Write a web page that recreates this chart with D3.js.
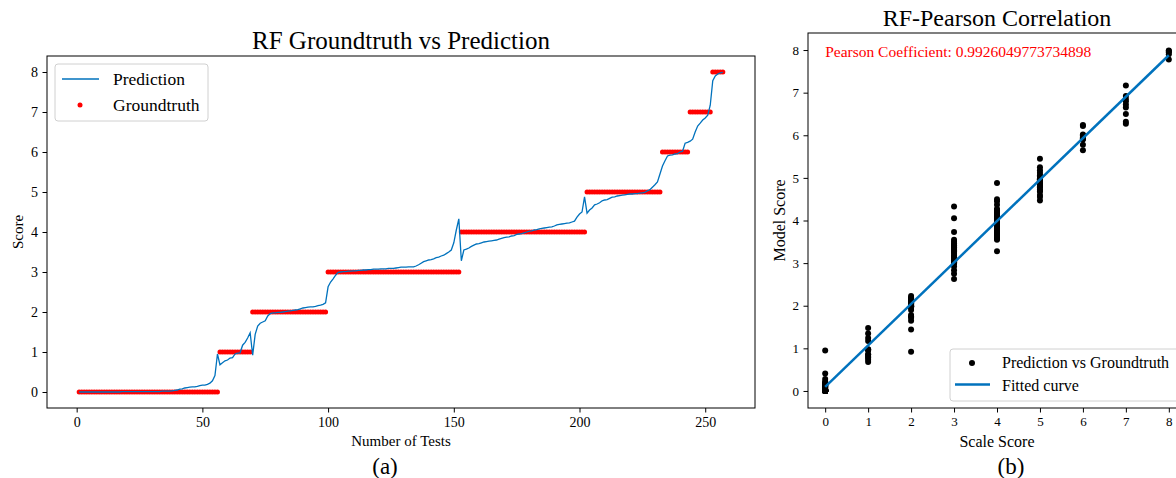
<!DOCTYPE html>
<html>
<head>
<meta charset="utf-8">
<script src="https://cdn.jsdelivr.net/npm/d3@7"></script>
<style>
  html, body { margin: 0; padding: 0; background: #fff; }
  svg { display: block; font-family: "Liberation Serif", "Times New Roman", serif; }
</style>
</head>
<body>
<svg id="chart" width="1176" height="478"></svg>
<script>
// ---- data ----
// groundtruth levels and how many tests sit on each level (tests are sorted by level)
const scoreLevels = [0, 1, 2, 3, 4, 5, 6, 7, 8];
const levelCounts = [56, 13, 30, 53, 50, 30, 11, 9, 5];

// RF prediction for each test, in test order
const prediction = [
  // level 0
  0, 0, 0, 0, 0, 0, 0, 0, 0, 0,
  0, 0, 0, 0, 0, 0, 0, 0.01, 0.01, 0.01,
  0.01, 0.01, 0.01, 0.01, 0.01, 0.01, 0.01, 0.01, 0.01, 0.01,
  0.01, 0.01, 0.01, 0.02, 0.02, 0.02, 0.02, 0.03, 0.04, 0.05,
  0.07, 0.08, 0.1, 0.11, 0.12, 0.13, 0.13, 0.14, 0.16, 0.17,
  0.17, 0.19, 0.22, 0.28, 0.41, 0.95,
  // level 1
  0.68, 0.73, 0.78, 0.8, 0.85, 0.86, 0.95, 0.97, 0.98, 1.17, 1.24, 1.35, 1.48,
  // level 2
  0.92, 1.44, 1.65, 1.72, 1.75, 1.78, 1.9, 1.96, 1.98, 1.98,
  1.99, 1.99, 2.0, 2.01, 2.02, 2.03, 2.04, 2.05, 2.06, 2.08,
  2.1, 2.11, 2.12, 2.13, 2.13, 2.14, 2.16, 2.17, 2.19, 2.23,
  // level 3
  2.63, 2.75, 2.83, 2.92, 2.99, 3.0, 3.01, 3.01, 3.02, 3.02,
  3.03, 3.03, 3.04, 3.04, 3.05, 3.05, 3.06, 3.06, 3.07, 3.07,
  3.07, 3.08, 3.08, 3.08, 3.09, 3.09, 3.09, 3.1, 3.11, 3.12,
  3.12, 3.12, 3.13, 3.13, 3.13, 3.15, 3.18, 3.22, 3.26, 3.28,
  3.3, 3.31, 3.33, 3.36, 3.37, 3.4, 3.42, 3.46, 3.5, 3.55,
  3.73, 4.05, 4.33,
  // level 4
  3.28, 3.55, 3.57, 3.6, 3.64, 3.67, 3.7, 3.71, 3.73, 3.75,
  3.76, 3.77, 3.78, 3.79, 3.8, 3.82, 3.84, 3.86, 3.87, 3.88,
  3.9, 3.91, 3.94, 3.95, 3.96, 3.98, 4.0, 4.02, 4.03, 4.05,
  4.06, 4.08, 4.09, 4.1, 4.11, 4.12, 4.13, 4.15, 4.18, 4.19,
  4.2, 4.21, 4.22, 4.23, 4.25, 4.27, 4.37, 4.45, 4.5, 4.88,
  // level 5
  4.47, 4.55, 4.6, 4.68, 4.7, 4.73, 4.78, 4.8, 4.81, 4.84,
  4.87, 4.88, 4.9, 4.91, 4.92, 4.93, 4.94, 4.95, 4.95, 4.96,
  4.96, 4.97, 4.98, 4.99, 5.03, 5.06, 5.12, 5.18, 5.25, 5.45,
  // level 6
  5.65, 5.78, 5.9, 5.92, 5.93, 5.95, 5.96, 6.0, 6.02, 6.22, 6.24,
  // level 7
  6.27, 6.32, 6.5, 6.65, 6.72, 6.8, 6.85, 6.92, 7.17,
  // level 8
  7.78, 7.9, 7.95, 7.98, 7.99
];

const testTicks = [0, 50, 100, 150, 200, 250];
const scoreTicks = [0, 1, 2, 3, 4, 5, 6, 7, 8];
const pearsonLabel = "Pearson Coefficient: 0.9926049773734898";

// ---- helpers ----
const blue = "#0072bd";
const red = "#ff0000";
const pad = ([lo, hi]) => [lo - 0.05 * (hi - lo), hi + 0.05 * (hi - lo)];

const groundtruth = scoreLevels.flatMap((s, i) => Array(levelCounts[i]).fill(s));
const tests = prediction.map((p, i) => ({ n: i + 1, pred: p, truth: groundtruth[i] }));

const svg = d3.select("#chart");

function styleAxis(g, size) {
  g.select(".domain").remove();
  g.selectAll(".tick line").attr("stroke", "#000").attr("stroke-width", 1);
  g.selectAll(".tick text")
    .attr("fill", "#000")
    .style("font-family", "Liberation Serif, serif")
    .style("font-size", size + "px");
}

// =========================== (a) =============================
const A = { left: 47, right: 755, top: 56, bottom: 408 };
const xA = d3.scaleLinear().domain(pad(d3.extent(tests, d => d.n))).range([A.left, A.right]);
const yA = d3.scaleLinear()
  .domain(pad([d3.min(tests, d => Math.min(d.pred, d.truth)), d3.max(tests, d => Math.max(d.pred, d.truth))]))
  .range([A.bottom, A.top]);

const gA = svg.append("g");

gA.append("g")
  .attr("transform", `translate(0,${A.bottom})`)
  .call(d3.axisBottom(xA).tickValues(testTicks).tickSize(4.5).tickPadding(4.5))
  .call(g => styleAxis(g, 14));

gA.append("g")
  .attr("transform", `translate(${A.left},0)`)
  .call(d3.axisLeft(yA).tickValues(scoreTicks).tickSize(4.5).tickPadding(4.5))
  .call(g => styleAxis(g, 14));

// groundtruth dots (under the line)
gA.append("g")
  .selectAll("circle")
  .data(tests)
  .join("circle")
  .attr("cx", d => xA(d.n))
  .attr("cy", d => yA(d.truth))
  .attr("r", 2.5)
  .attr("fill", red);

gA.append("path")
  .datum(tests)
  .attr("fill", "none")
  .attr("stroke", blue)
  .attr("stroke-width", 1.3)
  .attr("d", d3.line().x(d => xA(d.n)).y(d => yA(d.pred)));

gA.append("rect")
  .attr("x", A.left).attr("y", A.top)
  .attr("width", A.right - A.left).attr("height", A.bottom - A.top)
  .attr("fill", "none").attr("stroke", "#000").attr("stroke-width", 1);

// legend
const legA = gA.append("g").attr("transform", "translate(55,64)");
legA.append("rect")
  .attr("width", 153).attr("height", 57).attr("rx", 3)
  .attr("fill", "#fff").attr("fill-opacity", 0.8)
  .attr("stroke", "#d0d0d0");
legA.append("line")
  .attr("x1", 7).attr("x2", 44).attr("y1", 15).attr("y2", 15)
  .attr("stroke", blue).attr("stroke-width", 1.3);
legA.append("circle").attr("cx", 25).attr("cy", 41).attr("r", 2.5).attr("fill", red);
legA.selectAll("text.lab")
  .data(["Prediction", "Groundtruth"])
  .join("text")
  .attr("x", 58)
  .attr("y", (d, i) => 21 + i * 25.5)
  .style("font-size", "17.5px")
  .text(d => d);

// titles / labels
gA.append("text")
  .attr("x", (A.left + A.right) / 2).attr("y", 49)
  .attr("text-anchor", "middle").style("font-size", "25px")
  .text("RF Groundtruth vs Prediction");
gA.append("text")
  .attr("x", (A.left + A.right) / 2).attr("y", 446)
  .attr("text-anchor", "middle").style("font-size", "15px")
  .text("Number of Tests");
gA.append("text")
  .attr("transform", `translate(22.5,${(A.top + A.bottom) / 2}) rotate(-90)`)
  .attr("text-anchor", "middle").style("font-size", "15px")
  .text("Score");
gA.append("text")
  .attr("x", 385).attr("y", 474)
  .attr("text-anchor", "middle").style("font-size", "23px")
  .text("(a)");

// =========================== (b) =============================
const B = { left: 808, right: 1186, top: 33, bottom: 408 };
const xB = d3.scaleLinear().domain(pad(d3.extent(tests, d => d.truth))).range([B.left, B.right]);
const yB = d3.scaleLinear().domain(pad([0, 8])).range([B.bottom, B.top]);

// least squares fit of prediction on groundtruth
const mx = d3.mean(tests, d => d.truth), my = d3.mean(tests, d => d.pred);
const slope = d3.sum(tests, d => (d.truth - mx) * (d.pred - my)) / d3.sum(tests, d => (d.truth - mx) ** 2);
const intercept = my - slope * mx;
const fitEnds = d3.extent(tests, d => d.truth).map(x => ({ x, y: intercept + slope * x }));

const gB = svg.append("g");

gB.append("g")
  .attr("transform", `translate(0,${B.bottom})`)
  .call(d3.axisBottom(xB).tickValues(scoreTicks).tickSize(4.5).tickPadding(4.5))
  .call(g => styleAxis(g, 13));

gB.append("g")
  .attr("transform", `translate(${B.left},0)`)
  .call(d3.axisLeft(yB).tickValues(scoreTicks).tickSize(4.5).tickPadding(4.5))
  .call(g => styleAxis(g, 13));

gB.append("g")
  .selectAll("circle")
  .data(tests)
  .join("circle")
  .attr("cx", d => xB(d.truth))
  .attr("cy", d => yB(d.pred))
  .attr("r", 3)
  .attr("fill", "#000");

gB.append("path")
  .datum(fitEnds)
  .attr("fill", "none")
  .attr("stroke", blue)
  .attr("stroke-width", 2.5)
  .attr("d", d3.line().x(d => xB(d.x)).y(d => yB(d.y)));

gB.append("rect")
  .attr("x", B.left).attr("y", B.top)
  .attr("width", B.right - B.left).attr("height", B.bottom - B.top)
  .attr("fill", "none").attr("stroke", "#000").attr("stroke-width", 1);

gB.append("text")
  .attr("x", xB(0)).attr("y", yB(8) + 7)
  .attr("fill", red).style("font-size", "15.5px")
  .text(pearsonLabel);

// legend (lower right)
const legB = gB.append("g").attr("transform", "translate(950,349)");
legB.append("rect")
  .attr("width", 231).attr("height", 52).attr("rx", 3)
  .attr("fill", "#fff").attr("fill-opacity", 0.8)
  .attr("stroke", "#d0d0d0");
legB.append("circle").attr("cx", 22).attr("cy", 14).attr("r", 3).attr("fill", "#000");
legB.append("line")
  .attr("x1", 5).attr("x2", 40).attr("y1", 35.5).attr("y2", 35.5)
  .attr("stroke", blue).attr("stroke-width", 2.5);
legB.selectAll("text.lab")
  .data(["Prediction vs Groundtruth", "Fitted curve"])
  .join("text")
  .attr("x", 52)
  .attr("y", (d, i) => 19 + i * 22.5)
  .style("font-size", "16px")
  .text(d => d);

gB.append("text")
  .attr("x", 997).attr("y", 26)
  .attr("text-anchor", "middle").style("font-size", "24px")
  .text("RF-Pearson Correlation");
gB.append("text")
  .attr("x", 997).attr("y", 447)
  .attr("text-anchor", "middle").style("font-size", "16px")
  .text("Scale Score");
gB.append("text")
  .attr("transform", `translate(785,${(B.top + B.bottom) / 2}) rotate(-90)`)
  .attr("text-anchor", "middle").style("font-size", "16px")
  .text("Model Score");
gB.append("text")
  .attr("x", 1011).attr("y", 474)
  .attr("text-anchor", "middle").style("font-size", "23px")
  .text("(b)");
</script>
</body>
</html>
